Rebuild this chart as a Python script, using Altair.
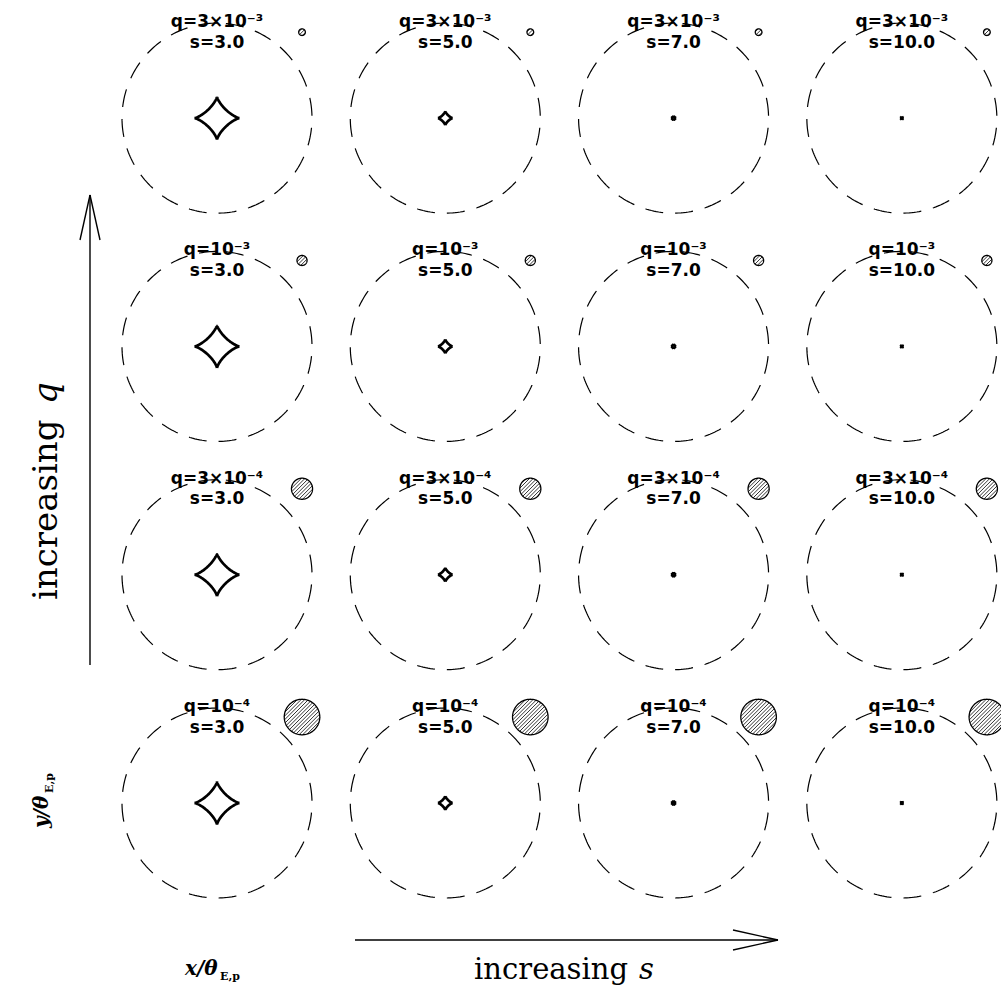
import math
import numpy as np
import pandas as pd
import altair as alt

# ---------------- data ----------------
s_values = [3.0, 5.0, 7.0, 10.0]                       # columns, left -> right
s_labels = ["s=3.0", "s=5.0", "s=7.0", "s=10.0"]
q_labels = ["q=3×10⁻³", "q=10⁻³", "q=3×10⁻⁴", "q=10⁻⁴"]  # rows, top -> bottom
source_radius = [0.035, 0.053, 0.111, 0.187]            # source size (θE,p units), per row
caustic_half_x = [0.237, 0.078, 0.028, 0.020]           # planetary caustic half width, per column
caustic_half_y = [0.227, 0.075, 0.028, 0.020]           # planetary caustic half height, per column
ring_radius = 1.0                                       # planet Einstein ring (dashed)

# ---------------- layout ----------------
STEP = 2.403          # distance between panel centres, θE,p units
PX = 95.0             # pixels per θE,p unit
W, H = 1001, 988
CX0, CY0 = 217.0, 803.0   # pixel of bottom-left panel centre
XDOM = [-CX0 / PX, (W - CX0) / PX]
YDOM = [(CY0 - H) / PX, CY0 / PX]
SRC_OFF = (0.895, 0.905)  # source disc offset from panel centre
ASTROID_K = 2.7           # concavity of caustic edges

panels, ring, caus, src, hatch = [], [], [], [], []
pid = 0
for r, ql in enumerate(q_labels):
    for c, sv in enumerate(s_values):
        cx = c * STEP
        cy = (3 - r) * STEP
        panels.append(dict(panel=pid, cx=cx, cy=cy, qlab=ql, slab=s_labels[c],
                           qy=cy + 0.96, sy=cy + 0.74))
        for i, a in enumerate(np.linspace(0, 2 * math.pi, 241)):
            ring.append(dict(panel=pid, i=i,
                             x=cx + ring_radius * math.cos(a + math.pi / 2),
                             y=cy + ring_radius * math.sin(a + math.pi / 2)))
        ax, ay = caustic_half_x[c], caustic_half_y[c]
        for i, a in enumerate(np.linspace(0, 2 * math.pi, 241)):
            co, si = math.cos(a), math.sin(a)
            caus.append(dict(panel=pid, i=i,
                             x=cx + ax * math.copysign(abs(co) ** ASTROID_K, co),
                             y=cy + ay * math.copysign(abs(si) ** ASTROID_K, si)))
        rs = source_radius[r]
        sx, sy = cx + SRC_OFF[0], cy + SRC_OFF[1]
        for i, a in enumerate(np.linspace(0, 2 * math.pi, 121)):
            src.append(dict(panel=pid, i=i, x=sx + rs * math.cos(a), y=sy + rs * math.sin(a)))
        h = 2.6 / PX
        u = (1 / math.sqrt(2), 1 / math.sqrt(2))
        n = (1 / math.sqrt(2), -1 / math.sqrt(2))
        nmax = int(rs / h)
        for k in range(-nmax, nmax + 1):
            d = k * h
            if abs(d) >= rs:
                continue
            L = math.sqrt(rs * rs - d * d)
            hatch.append(dict(x=sx + d * n[0] - L * u[0], y=sy + d * n[1] - L * u[1],
                              x2=sx + d * n[0] + L * u[0], y2=sy + d * n[1] + L * u[1]))
        pid += 1

panels = pd.DataFrame(panels)
ring = pd.DataFrame(ring)
caus = pd.DataFrame(caus)
src = pd.DataFrame(src)
hatch = pd.DataFrame(hatch)

xs = alt.Scale(domain=XDOM, nice=False, zero=False)
ys = alt.Scale(domain=YDOM, nice=False, zero=False)
X = lambda f: alt.X(f, type="quantitative", scale=xs, axis=None)
Y = lambda f: alt.Y(f, type="quantitative", scale=ys, axis=None)

ring_l = alt.Chart(ring).mark_line(color="black", strokeWidth=1.2, strokeDash=[18, 12]).encode(
    x=X("x"), y=Y("y"), detail="panel:N", order="i:Q")
caus_l = alt.Chart(caus).mark_line(color="black", strokeWidth=2.7, strokeJoin="miter").encode(
    x=X("x"), y=Y("y"), detail="panel:N", order="i:Q")
hatch_l = alt.Chart(hatch).mark_rule(color="black", strokeWidth=0.8).encode(
    x=X("x"), y=Y("y"), x2="x2", y2="y2")
src_l = alt.Chart(src).mark_line(color="black", strokeWidth=1.3).encode(
    x=X("x"), y=Y("y"), detail="panel:N", order="i:Q")
qtext = alt.Chart(panels).mark_text(font="DejaVu Sans", fontSize=17, fontWeight="bold",
                                    baseline="alphabetic", align="center", color="black").encode(
    x=X("cx"), y=Y("qy"), text="qlab:N")
stext = alt.Chart(panels).mark_text(font="DejaVu Sans", fontSize=17, fontWeight="bold",
                                    baseline="alphabetic", align="center", color="black").encode(
    x=X("cx"), y=Y("sy"), text="slab:N")

dummy = pd.DataFrame({"a": [0]})


def seg(x1, y1, x2, y2, w=1.4):
    return alt.Chart(dummy).mark_rule(color="black", strokeWidth=w).encode(
        x=alt.value(x1), y=alt.value(y1), x2=alt.value(x2), y2=alt.value(y2))


def txt(t, x, y, size, angle=0, font="DejaVu Serif", style="normal", weight="normal", align="center"):
    kw = dict(font=font, fontSize=size, fontStyle=style, fontWeight=weight, align=align,
              baseline="alphabetic", color="black", text=t)
    if angle:
        kw["angle"] = angle
    return alt.Chart(dummy).mark_text(**kw).encode(x=alt.value(x), y=alt.value(y))


arrows = [
    seg(90, 665, 90, 195), seg(90, 195, 80, 240), seg(90, 195, 100, 240),
    seg(355, 940, 778, 940), seg(778, 940, 733, 930), seg(778, 940, 733, 950),
]
labels = [
    txt("increasing", 57, 600, 34, angle=270, align="left"),
    txt("q", 57, 404, 34, angle=270, style="italic", align="left"),
    txt("increasing", 628, 979, 29, align="right"),
    txt("s", 639, 979, 29, style="italic", align="left"),
    txt("x/θ", 185, 975, 20, style="italic", weight="bold", align="left"),
    txt("E,p", 220, 980, 11, weight="bold", align="left"),
    txt("y/θ", 48, 828, 20, angle=270, style="italic", weight="bold", align="left"),
    txt("E,p", 53, 793, 11, angle=270, weight="bold", align="left"),
]

chart = alt.layer(ring_l, caus_l, hatch_l, src_l, qtext, stext, *arrows, *labels).properties(
    width=W, height=H, autosize=alt.AutoSizeParams(type="none"), padding=0
).configure_view(stroke=None)

chart.save("out.html", embed_options={"renderer": "svg", "actions": False})
